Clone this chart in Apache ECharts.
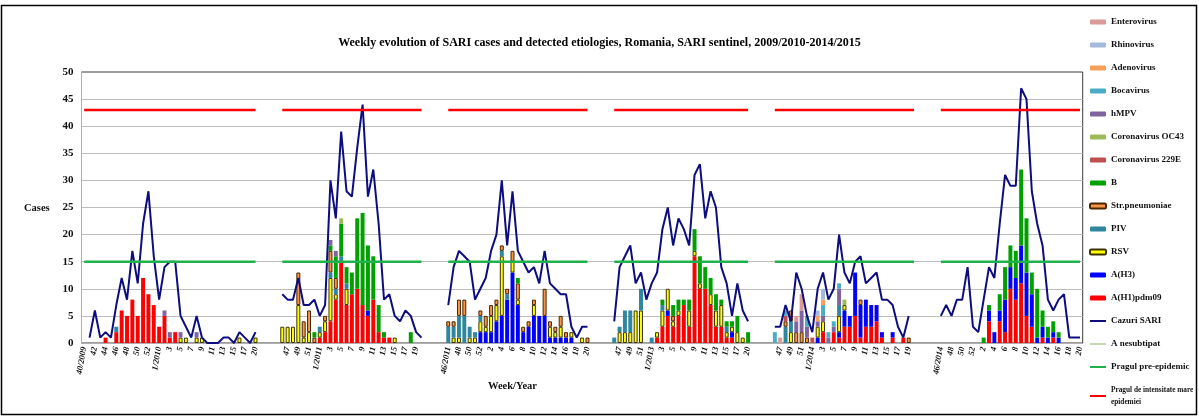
<!DOCTYPE html>
<html><head><meta charset="utf-8">
<script src="https://cdn.jsdelivr.net/npm/echarts@6/dist/echarts.min.js"></script>
<style>html,body{margin:0;padding:0;background:#fff}#c{width:1199px;height:417px}</style>
</head><body><div id="c"></div>
<script>
// ---- categories (week labels) per season ----
const weeks0910 = ['40/2009','41','42','43','44','45','46','47','48','49','50','51','52','53','1/2010','2','3','4','5','6','7','8','9','10','11','12','13','14','15','16','17','18','20'];
const weeks1011 = ['46','47','48','49','50','51','52','1/2011','2','3','4','5','6','7','8','9','10','11','12','13','14','15','16','17','18','19','20'];
const weeks1112 = ['46/2011','47','48','49','50','51','52','1/2012','2','3','4','5','6','7','8','9','10','11','12','13','14','15','16','17','18','19','20'];
const weeks1213 = ['46','47','48','49','50','51','52','1/2013','2','3','4','5','6','7','8','9','10','11','12','13','14','15','16','17','18','20'];
const weeks1314 = ['46','47','48','49','50','51','52','1/2014','2','3','4','5','6','7','8','9','10','11','12','13','14','15','16','17','18','19','20'];
const weeks1415 = ['46/2014','47','48','49','50','51','52','1/2015','2','3','4','5','6','7','8','9','10','11','12','13','14','15','16','17','18','19','20'];
const seasonWeeks = [weeks0910, weeks1011, weeks1112, weeks1213, weeks1314, weeks1415];
const gapWeeks = ['', '', '', ''];

// ---- y axis ticks ----
const yTicks = [0, 5, 10, 15, 20, 25, 30, 35, 40, 45, 50];

// ---- series values, one array per season (empty = no detections) ----
const sari = [
  [null,1,6,1,2,1,7,12,8,17,11,22,28,16,8,14,15,15,5,3,1,5,1,0,0,0,1,1,0,2,1,0,2],
  [9,8,8,12,7,7,8,5,7,30,23,39,28,27,36,44,27,32,22,8,9,5,4,6,5,2,1],
  [7,14,17,16,15,8,10,12,17,20,30,18,28,17,15,13,14,11,17,11,10,9,9,3,1,3,3],
  [4,14,16,18,11,13,8,11,13,21,25,18,23,21,18,31,33,23,28,25,14,11,5,11,6,4],
  [3,3,7,4,13,10,5,2,10,13,8,10,20,13,11,15,16,11,12,13,8,8,7,3,1,5,null],
  [5,7,5,8,8,14,3,2,8,14,12,22,31,29,29,47,45,28,22,18,8,6,8,9,1,1,1]
];
const h1pdm09 = [
  [0,0,0,0,1,0,2,6,5,8,5,12,9,7,3,5,1,2,0,0,0,0,0,0,0,0,0,0,0,0,0,0,0],
  [0,0,0,0,0,0,0,1,2,4,8,15,7,9,10,7,5,8,2,1,1,0,0,0,0,0,0],
  [],
  [0,0,0,0,0,0,0,0,1,3,5,3,5,7,3,16,10,10,7,3,3,1,1,0,0,0],
  [0,0,0,0,0,0,0,0,0,2,0,2,1,3,3,5,1,3,3,4,1,0,1,0,1,0,0],
  [0,0,0,0,0,0,0,0,0,4,0,4,2,10,8,11,5,3,0,1,0,1,0,0,0,0,0]
];
const h3 = [
  [],
  [0,0,0,0,0,0,0,0,0,0,0,0,0,0,0,0,1,0,0,0,0,0,0,0,0,0,0],
  [0,0,0,0,0,0,2,2,2,4,5,8,13,7,2,3,5,5,5,1,1,1,1,1,0,0,0],
  [0,0,0,0,0,0,0,0,0,0,1,0,0,0,0,0,0,0,0,0,0,0,1,0,0,0],
  [0,0,0,0,0,0,0,0,1,0,0,0,1,3,2,8,6,5,4,3,1,0,1,0,0,0,0],
  [0,0,0,0,0,0,0,0,0,2,2,2,6,4,4,7,8,6,1,2,1,1,1,0,0,0,0]
];
const rsv = [
  [0,0,0,0,0,0,0,0,0,0,0,0,0,0,0,0,0,0,1,1,0,1,1,0,0,0,0,0,0,1,0,0,1],
  [3,3,3,7,1,2,0,1,2,8,1,0,3,0,0,0,0,0,0,0,0,1,0,0,0,0,0],
  [0,1,1,0,1,1,2,1,3,3,11,0,2,1,0,0,2,0,0,2,1,2,0,1,0,1,0],
  [0,2,2,2,6,6,0,0,1,3,4,1,1,0,3,1,1,0,2,3,4,1,1,2,1,0],
  [0,0,0,2,0,0,0,0,2,2,0,0,3,1,0,0,0,0,0,0,0,0,0,0,0,0,0],
  []
];
const piv = [
  [0,0,0,0,0,0,1,0,0,0,0,0,0,0,0,0,0,0,0,0,0,0,0,0,0,0,0,0,0,0,0,0,0],
  [0,0,0,0,0,0,0,1,0,1,1,1,1,0,0,0,0,0,0,0,0,0,0,0,0,0,0],
  [3,2,4,5,2,1,1,0,0,0,1,1,0,0,0,0,0,0,0,0,0,0,0,0,0,0,0],
  [1,1,4,4,0,4,0,1,0,1,0,0,0,0,0,0,0,0,0,0,0,1,0,0,0,0],
  [0,0,3,2,0,0,0,0,0,0,0,0,2,0,0,0,0,0,0,0,0,0,0,0,0,0,0],
  []
];
const strPneumoniae = [
  [],
  [0,0,0,6,3,4,1,0,1,4,2,0,0,0,0,0,0,0,0,0,0,0,0,0,0,0,0],
  [1,1,3,3,0,0,1,2,2,1,1,1,2,3,1,1,1,0,5,1,1,2,1,0,0,0,1],
  [0,0,0,0,0,0,0,0,0,0,0,1,0,0,0,0,0,0,0,0,0,0,0,0,0,0],
  [0,0,1,2,2,2,1,0,0,0,0,0,0,0,0,0,1,0,0,0,0,0,0,0,0,1,0],
  []
];
const fluB = [
  [],
  [0,0,0,0,0,0,1,0,0,1,4,6,3,4,13,17,12,8,5,1,0,0,0,0,2,0,0],
  [0,0,0,0,0,0,0,0,0,0,0,0,0,1,0,0,0,0,0,0,0,0,0,0,0,0,0],
  [0,0,0,0,0,0,0,0,0,1,0,2,2,1,2,4,5,4,3,3,1,1,1,3,0,2],
  [],
  [0,0,0,0,0,0,0,0,1,1,0,3,6,4,5,14,10,4,9,3,2,2,1,0,0,0,0]
];
const corona229E = [[], [], [], [],
  [0,0,1,0,0,0,0,1,0,0,0,0,0,0,0,0,0,0,0,0,0,0,0,0,0,0,0], []];
const coronaOC43 = [[],
  [0,0,0,0,0,0,0,0,0,0,0,1,0,0,0,0,0,0,0,0,0,0,0,0,0,0,0], [], [],
  [0,0,0,0,0,0,0,0,0,0,0,0,0,1,0,0,0,0,0,0,0,0,0,0,0,0,0], []];
const hmpv = [
  [0,0,0,0,0,0,0,0,0,0,0,0,0,0,0,1,1,0,1,0,0,1,0,0,0,0,0,0,0,0,0,0,0],
  [0,0,0,0,0,0,0,0,0,1,1,0,0,0,0,0,0,0,0,0,0,0,0,0,0,0,0], [], [],
  [0,0,0,0,2,4,2,0,1,1,1,1,3,0,0,0,0,0,0,0,0,0,0,0,0,0,0], []];
const bocavirus = [[], [], [], [],
  [2,0,1,0,0,0,2,0,0,2,1,1,1,0,0,0,0,0,0,0,0,0,0,0,0,0,0], []];
const adenovirus = [[], [], [], [],
  [0,0,0,0,0,0,0,0,1,1,0,0,0,0,0,0,0,0,0,0,0,0,0,0,0,0,0], []];
const rhinovirus = [[], [], [], [],
  [0,0,0,0,0,0,0,0,1,2,0,0,0,0,0,0,0,0,0,0,0,0,0,0,0,0,0], []];
const enterovirus = [[], [], [], [],
  [0,1,0,0,1,3,0,0,0,0,0,0,0,0,0,0,0,0,0,0,0,0,0,0,0,0,0], []];
const aNesubtipat = [[], [], [], [], [], []];

const preEpidemicThreshold = 15;
const highIntensityThreshold = 43;

// ---- build full-length arrays for the category axis ----
const categories = [];
seasonWeeks.forEach((w, k) => { if (k > 0) categories.push(...gapWeeks); categories.push(...w); });

function spread(seasons, keepZero) {
  const out = [];
  seasonWeeks.forEach((w, k) => {
    if (k > 0) gapWeeks.forEach(() => out.push(null));
    const s = seasons[k] || [];
    w.forEach((_, i) => {
      const v = s[i];
      if (v === undefined || v === null) out.push(null);
      else if (v === 0 && !keepZero) out.push(null);
      else out.push(v);
    });
  });
  return out;
}
function constSeason(v) {
  return spread(seasonWeeks.map(w => w.map(() => v)), true);
}

const FONT = 'Liberation Serif';
function bar(name, data, color, border) {
  return {
    name, type: 'bar', stack: 'etiology', data: spread(data, false),
    barWidth: '74%',
    itemStyle: border ? { color, borderColor: border, borderWidth: 1 } : { color, borderWidth: 0 },
    emphasis: { disabled: true }, z: 2
  };
}
function line(name, data, color, width) {
  return {
    name, type: 'line', data: data, symbol: 'none', connectNulls: false,
    lineStyle: { color, width }, itemStyle: { color }, z: 5, emphasis: { disabled: true }
  };
}

const series = [
  bar('A(H1)pdm09', h1pdm09, '#ff0000'),
  bar('A(H3)', h3, '#0000ff'),
  bar('RSV', rsv, '#ffff00', '#3a3300'),
  bar('PIV', piv, '#31869f'),
  bar('Str.pneumoniae', strPneumoniae, '#f79646', '#4a2500'),
  bar('B', fluB, '#00a000'),
  bar('Coronavirus 229E', corona229E, '#c0504d'),
  bar('Coronavirus OC43', coronaOC43, '#9bbb59'),
  bar('hMPV', hmpv, '#8064a2'),
  bar('Bocavirus', bocavirus, '#4bacc6'),
  bar('Adenovirus', adenovirus, '#f8a05a'),
  bar('Rhinovirus', rhinovirus, '#a5b9dc'),
  bar('Enterovirus', enterovirus, '#d99a98'),
  line('Cazuri SARI', spread(sari, true), '#0d0d80', 2),
  line('A nesubtipat', spread(aNesubtipat, true), '#c3d9b0', 2),
  line('Pragul pre-epidemic', constSeason(preEpidemicThreshold), '#1fb24a', 2.5),
  line('Pragul de intensitate mare epidemiei', constSeason(highIntensityThreshold), '#ff0000', 2.5)
];

const lineNames = ['Cazuri SARI','A nesubtipat','Pragul pre-epidemic','Pragul de intensitate mare epidemiei'];
const legendOrder = ['Enterovirus','Rhinovirus','Adenovirus','Bocavirus','hMPV','Coronavirus OC43','Coronavirus 229E','B','Str.pneumoniae','PIV','RSV','A(H3)','A(H1)pdm09','Cazuri SARI','A nesubtipat','Pragul pre-epidemic','Pragul de intensitate mare epidemiei'];

const chart = echarts.init(document.getElementById('c'), null, { renderer: 'canvas' });
chart.setOption({
  animation: false,
  backgroundColor: '#fff',
  title: {
    text: 'Weekly evolution of SARI cases and detected etiologies, Romania, SARI sentinel, 2009/2010-2014/2015',
    left: 'center', top: 32,
    textStyle: { fontFamily: FONT, fontWeight: 'bold', fontSize: 12, color: '#000' }
  },
  legend: {
    type: 'plain', orient: 'vertical', left: 1089, top: 16, bottom: 0, padding: 0,
    itemWidth: 16, itemHeight: 5, itemGap: 11,
    data: legendOrder.map(n => lineNames.includes(n)
      ? { name: n, itemStyle: { color: 'rgba(0,0,0,0)', borderWidth: 0 } }
      : { name: n }),
    formatter: n => n === 'Pragul de intensitate mare epidemiei'
      ? '{s|Pragul de intensitate mare}\n{s|epidemiei}' : n,
    textStyle: {
      fontFamily: FONT, fontWeight: 'bold', fontSize: 9, lineHeight: 12, color: '#111',
      rich: { s: { fontFamily: FONT, fontWeight: 'bold', fontSize: 7.3, lineHeight: 12, color: '#111' } }
    },
    selectedMode: false
  },
  grid: { left: 81.5, right: 116.3, top: 72, bottom: 74, show: true, borderColor: '#3a3a3a', borderWidth: 1, backgroundColor: 'transparent' },
  xAxis: {
    type: 'category', data: categories, boundaryGap: true,
    axisLine: { lineStyle: { color: '#b0b0b0', width: 1 } },
    axisTick: { show: false },
    axisLabel: { interval: 1, rotate: 80, margin: 4, fontFamily: FONT, fontStyle: 'italic', fontWeight: 'bold', fontSize: 8.5, color: '#111' }
  },
  yAxis: {
    type: 'value', min: yTicks[0], max: yTicks[yTicks.length - 1], interval: yTicks[1] - yTicks[0],
    axisLine: { show: true, lineStyle: { color: '#b0b0b0', width: 1 } },
    axisTick: { show: false },
    splitLine: { show: true, showMaxLine: false, lineStyle: { color: '#bdbdbd', width: 1.2 } },
    axisLabel: { margin: 8, fontFamily: FONT, fontWeight: 'bold', fontSize: 11, color: '#111' }
  },
  graphic: [
    { type: 'rect', shape: { x: 1.5, y: 5.5, width: 1195, height: 409 }, style: { fill: 'none', stroke: '#000', lineWidth: 1.5 }, silent: true, z: -1 },
    { type: 'text', left: 24, top: 203, style: { text: 'Cases', font: 'bold 10.5px "Liberation Serif"', fill: '#111' } },
    { type: 'text', left: 488, top: 381, style: { text: 'Week/Year', font: 'bold 10.5px "Liberation Serif"', fill: '#111' } }
  ],
  series
});
</script></body></html>
